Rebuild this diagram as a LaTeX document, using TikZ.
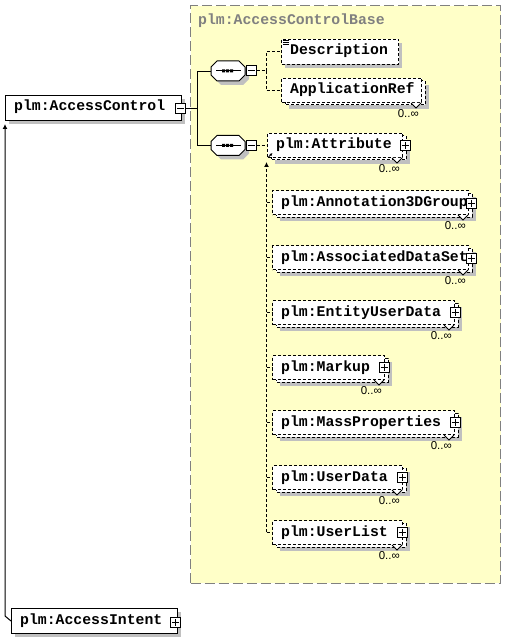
\documentclass[tikz,border=0pt]{standalone}
\usepackage{fontspec}
\newfontfamily\xsmono{Liberation Mono}
\newfontfamily\xssans{Liberation Sans}
\usetikzlibrary{arrows.meta}
\definecolor{xsyellow}{RGB}{255,255,200}
\definecolor{xsshadow}{RGB}{192,192,192}
\definecolor{xsgray}{RGB}{128,128,128}
\tikzset{
  lbl/.style={font=\xsmono\bfseries\fontsize{14.8}{16}\selectfont, anchor=base west, inner sep=0},
  occ/.style={font=\xssans\fontsize{11.5}{12}\selectfont, anchor=north east, inner sep=0},
  dsh/.style={dash pattern=on 3pt off 2pt},
  fbox/.style={draw, fill=white, anchor=north west, inner sep=0, line width=1pt},
  btn/.style={draw, fill=white, minimum size=10, inner sep=0, line width=1pt},
  conn/.style={line width=1pt},
  tip/.style={-{Latex[length=5pt,width=5pt]}},
}
\newcommand\xsPlus[3]{%
  \node[btn] (#1) at (#2,#3) {};
  \draw[line width=1pt] ([xshift=2pt]#1.west) -- ([xshift=-2pt]#1.east);
  \draw[line width=1pt] ([yshift=-2pt]#1.north) -- ([yshift=2pt]#1.south);
}
\newcommand\xsMinus[3]{%
  \node[btn] (#1) at (#2,#3) {};
  \draw[line width=1pt] ([xshift=2pt]#1.west) -- ([xshift=-2pt]#1.east);
}
\newcommand\xsMulti[5]{%
  \fill[xsshadow] ({#2+8},{#3+7}) rectangle ({#4+8},{#3+31});
  \draw[dsh,line width=1pt,fill=white] ({#2+4},{#3+3}) rectangle ({#4+4},{#3+27});
  \node[fbox,dsh,minimum width={#4-#2},minimum height=24] (#1) at (#2,#3) {};
  \node[lbl] (#1t) at ({#2+9},{#3+16}) {#5};
  \draw[line width=1pt,fill=white] ({#4-10},{#3+25}) -- ({#4-5},{#3+30}) -- ({#4},{#3+25});
  \node[occ] (#1o) at ({#4-2},{#3+31}) {0..∞};
}
\newcommand\xsSeq[3]{%
  \fill[xsshadow, shift={({#2+4},{#3+4})}] (6,0) -- (28,0) -- (34,6) -- (34,14) -- (28,20) -- (6,20) -- (0,14) -- (0,6) -- cycle;
  \draw[line width=1pt, fill=white, shift={(#2,#3)}] (6,0) -- (28,0) -- (34,6) -- (34,14) -- (28,20) -- (6,20) -- (0,14) -- (0,6) -- cycle;
  \draw[line width=1pt, shift={(#2,#3)}] (5,10) -- (30,10);
  \fill[shift={(#2,#3)}] (11,8.5) rectangle (14,11.5) (15,8.5) rectangle (18,11.5) (19,8.5) rectangle (22,11.5);
  \node[inner sep=0,minimum width=34,minimum height=20,anchor=north west] (#1) at (#2,#3) {};
}
\begin{document}
\begin{tikzpicture}[x=1pt,y=-1pt]
\useasboundingbox (0,0) rectangle (506,639);

% container
\node[draw=xsgray, line width=1pt, dash pattern=on 10pt off 4pt, fill=xsyellow,
      anchor=north west, inner sep=0, minimum width=310, minimum height=577] (base) at (190,5.5) {};
\node[lbl, text=xsgray] (basel) at (198,25) {plm:AccessControlBase};

% AccessControl
\fill[xsshadow] (9,99) rectangle (185,124);
\node[fbox, minimum width=176, minimum height=25] (ac) at (5,95) {};
\node[lbl] (act) at (14,111) {plm:AccessControl};
\xsMinus{acm}{180.5}{108.5}

% AccessIntent
\fill[xsshadow] (15,612) rectangle (181,637);
\node[fbox, minimum width=166, minimum height=25] (ai) at (11,608) {};
\node[lbl] (ait) at (20,624) {plm:AccessIntent};
\xsPlus{aip}{175.5}{622.5}

% sequences
\xsSeq{s1}{211}{61}
\xsMinus{s1m}{251}{71}
\xsSeq{s2}{211}{135.5}
\xsMinus{s2m}{251}{145.5}

% Description
\fill[xsshadow] (285,43) rectangle (402,68);
\node[fbox, dsh, minimum width=117, minimum height=25] (desc) at (281,39) {};
\node[lbl] (desct) at (290,55) {Description};
\draw[line width=0.8pt] (283,40.5) -- (289,40.5) (283,42.5) -- (289,42.5) (283,44.5) -- (289,44.5);

% ApplicationRef
\xsMulti{appref}{281}{78}{421}{ApplicationRef}

% Attribute and substitution group
\xsMulti{attr}{267}{133}{402}{plm:Attribute}
\xsPlus{attrp}{405}{145.5}
\xsMulti{ann}{272}{190}{468}{plm:Annotation3DGroup}
\xsPlus{annp}{471}{203}
\xsMulti{ads}{272}{245}{468}{plm:AssociatedDataSet}
\xsPlus{adsp}{471}{258}
\xsMulti{eud}{272}{300}{454}{plm:EntityUserData}
\xsPlus{eudp}{455}{312.5}
\xsMulti{mku}{272}{355}{384}{plm:Markup}
\xsPlus{mkup}{384}{367.5}
\xsMulti{mass}{272}{410}{454}{plm:MassProperties}
\xsPlus{massp}{455}{422.5}
\xsMulti{ud}{272}{465}{402}{plm:UserData}
\xsPlus{udp}{402}{477.5}
\xsMulti{ul}{272}{520}{402}{plm:UserList}
\xsPlus{ulp}{402}{532.5}

% connectors
\coordinate (j1) at (197,108.5);
\draw[conn] (acm.east) -- (j1);
\draw[conn] (j1) |- (s1.west);
\draw[conn] (j1) |- (s2.west);

\coordinate (d1) at (266,71);
\draw[conn, dsh] (s1m.east) -- (d1);
\draw[conn, dsh] (d1) |- (desc.west);
\draw[conn, dsh] (d1) |- (appref.west);

\draw[conn, dsh] (s2m.east) -- (s2m.east -| attr.west);

\coordinate (subtop) at (266.5,162);
\coordinate (subbot) at (266.5,532);
\draw[conn, dsh, tip] (subbot) -- (subtop);
\foreach \m in {ann,ads,eud,mku,mass,ud,ul}{
  \draw[conn, dsh] (\m.west -| subtop) -- (\m.west);
}
\draw[line width=0.8pt, -{Latex[length=3pt,width=3pt]}] ([xshift=1.5pt,yshift=1pt]attr.south west) -- ++(4,-4);

\coordinate (aibend) at (5,616);
\coordinate (actip) at (5,124);
\draw[conn, tip] (ai.west) -- (aibend) -- (actip);
\end{tikzpicture}
\end{document}
